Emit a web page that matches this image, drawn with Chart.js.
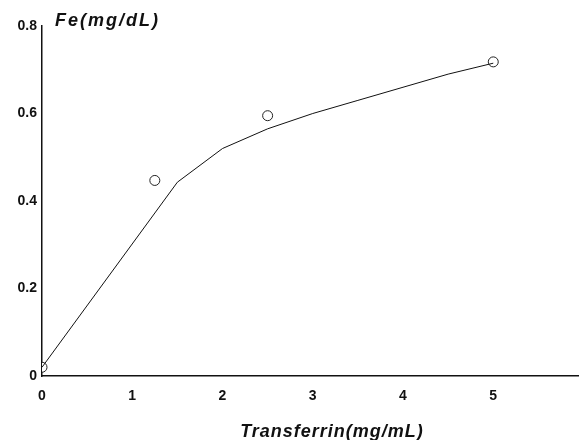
<!DOCTYPE html>
<html>
<head>
<meta charset="utf-8">
<script src="https://cdn.jsdelivr.net/npm/chart.js@4.4.1/dist/chart.umd.min.js"></script>
<style>
  html, body { margin: 0; padding: 0; background: #fff; }
  #wrap { width: 579px; height: 440px; }
</style>
</head>
<body>
<div id="wrap"><canvas id="fe-chart" width="579" height="440"></canvas></div>
<script>
// measured points (circles)
const measuredX = [0, 1.25, 2.5, 5];
const measuredY = [0.02, 0.447, 0.595, 0.718];

// fitted curve
const curveX = [0, 1.5, 2, 2.5, 3, 3.5, 4, 4.5, 5];
const curveY = [0.02, 0.443, 0.52, 0.565, 0.6, 0.63, 0.66, 0.69, 0.715];

const xTicks = [0, 1, 2, 3, 4, 5];
const yTicks = [0, 0.2, 0.4, 0.6, 0.8];

const yTitle = "Fe(mg/dL)";
const xTitle = "Transferrin(mg/mL)";

const font = "'Liberation Sans', Arial, sans-serif";

// ชื่อแกนทั้งสองวาดเอง
const axisTitles = {
    id: "axisTitles",
    afterDraw(chart) {
        const ctx = chart.ctx;
        const area = chart.chartArea;
        ctx.save();
        ctx.fillStyle = "#111";
        ctx.font = "italic bold 18px " + font;
        ctx.textBaseline = "alphabetic";
        ctx.letterSpacing = "2px";
        ctx.textAlign = "left";
        ctx.fillText(yTitle, area.left + 13, 26);
        ctx.letterSpacing = "1px";
        ctx.textAlign = "center";
        ctx.fillText(xTitle, area.left + 290, 437);
        ctx.restore();
    }
};

const ctx = document.getElementById("fe-chart").getContext("2d");
new Chart(ctx, {
    type: "scatter",
    data: {
        datasets: [
            {
                label: "curve",
                data: curveX.map((x, i) => ({ x: x, y: curveY[i] })),
                showLine: true,
                borderColor: "#111",
                borderWidth: 1,
                pointRadius: 0,
                tension: 0
            },
            {
                label: "measured",
                data: measuredX.map((x, i) => ({ x: x, y: measuredY[i] })),
                showLine: false,
                pointRadius: 5,
                pointBorderWidth: 1,
                pointBorderColor: "#222",
                pointBackgroundColor: "#fff"
            }
        ]
    },
    options: {
        responsive: false,
        animation: false,
        layout: { autoPadding: false, padding: { top: 26, right: 0, left: 0, bottom: 0 } },
        plugins: {
            legend: { display: false },
            tooltip: { enabled: false }
        },
        scales: {
            x: {
                type: "linear",
                min: 0,
                max: 5.95,
                afterBuildTicks: scale => { scale.ticks = xTicks.map(v => ({ value: v })); },
                afterFit: scale => {
                    scale.height = 64;
                    scale.paddingLeft = 0;
                    scale.paddingRight = 0;
                },
                grid: { display: false, drawTicks: false },
                border: { color: "#111", width: 1.5 },
                ticks: {
                    color: "#111",
                    padding: 12,
                    maxRotation: 0,
                    font: { family: font, size: 14, weight: "bold" }
                }
            },
            y: {
                type: "linear",
                min: 0,
                max: 0.8,
                afterBuildTicks: scale => { scale.ticks = yTicks.map(v => ({ value: v })); },
                afterFit: scale => {
                    scale.width = 42;
                    scale.paddingTop = 0;
                    scale.paddingBottom = 0;
                },
                grid: { display: false, drawTicks: false },
                border: { color: "#111", width: 1.5 },
                ticks: {
                    color: "#111",
                    padding: 5,
                    font: { family: font, size: 14, weight: "bold" },
                    callback: v => (v === 0 ? "0" : v.toFixed(1))
                }
            }
        }
    },
    plugins: [axisTitles]
});
</script>
</body>
</html>
